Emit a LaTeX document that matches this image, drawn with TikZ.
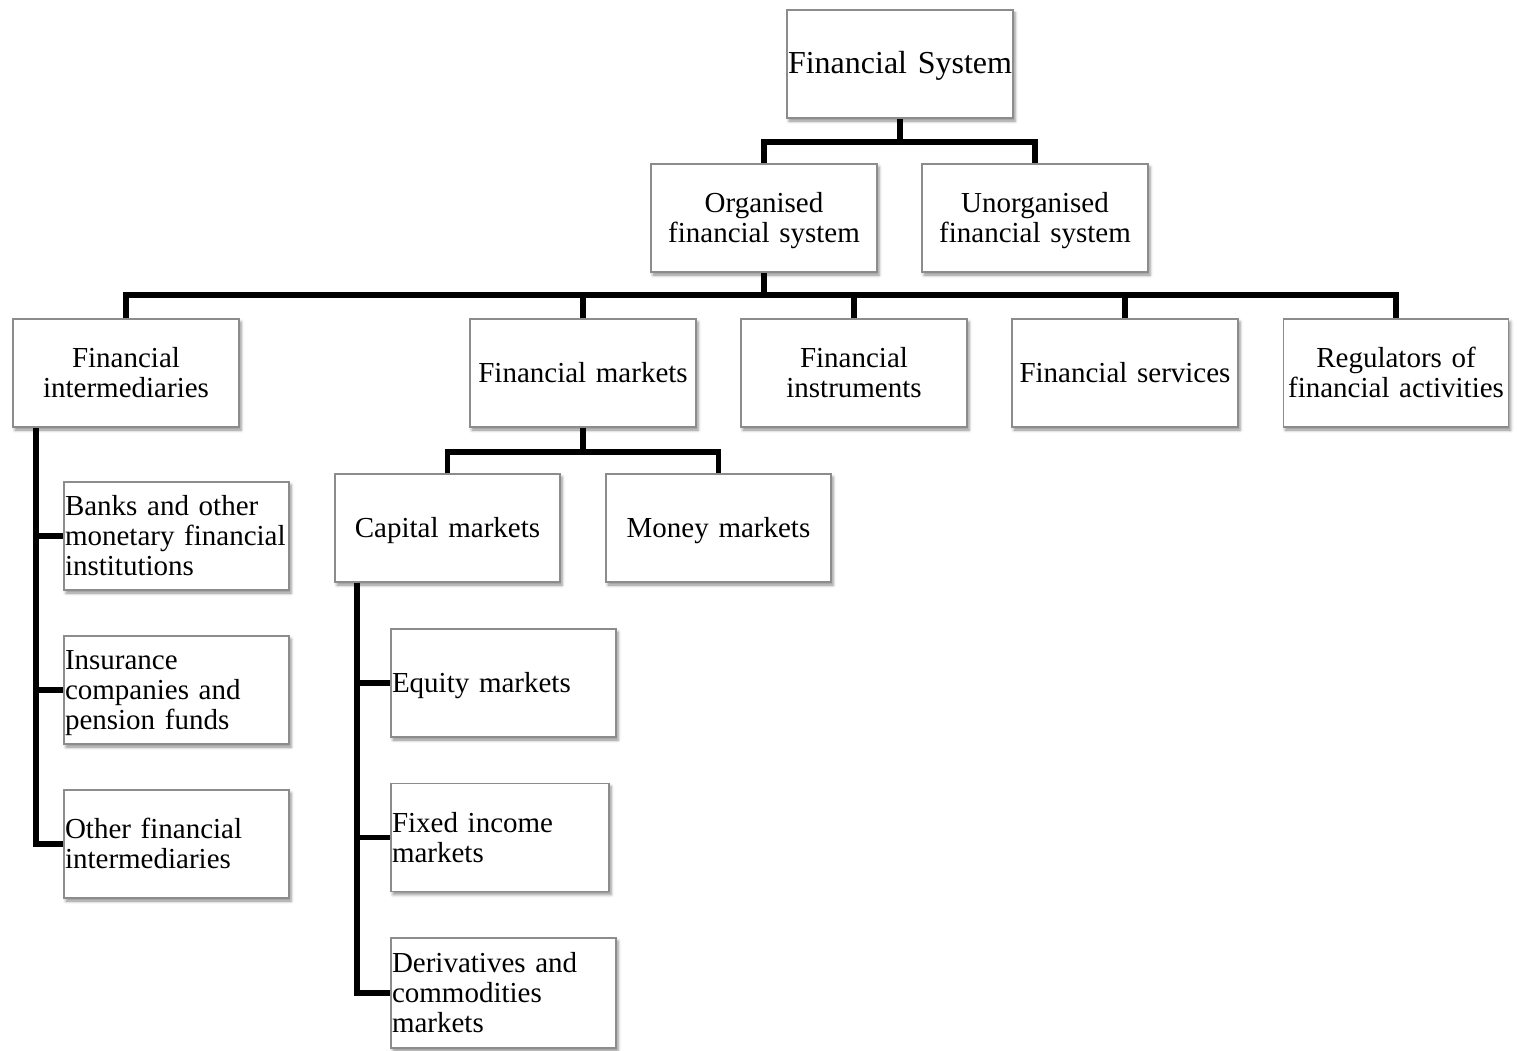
\documentclass[tikz,border=0pt]{standalone}
\usepackage{fontspec}
\setmainfont{Liberation Serif}
\usetikzlibrary{shadows.blur}
\definecolor{boxline}{HTML}{8C8C8C}
% invisible struts: a fixed height above the first baseline and a fixed
% depth below the last one, so every label sits the same way in its box
\newcommand\topstrut{\rule{0pt}{26.5pt}}
\newcommand\botstrut{\rule[-7pt]{0pt}{7pt}}
\tikzset{
  box/.style={draw=boxline, fill=white, line width=1.3pt,
    minimum height=108pt, inner xsep=1pt, inner ysep=0pt,
    text width=#1, align=center,
    font=\fontsize{29pt}{30pt}\selectfont,
    execute at begin node=\topstrut, execute at end node=\botstrut,
    blur shadow={shadow xshift=2pt, shadow yshift=-3pt,
      shadow blur radius=3pt, shadow opacity=45}},
  box/.default=224pt,
  leaf/.style={box=#1, align=left},
  leaf/.default=223pt,
  conn/.style={line width=5.5pt, line join=miter, draw=black}
}
\begin{document}
\begin{tikzpicture}[x=1pt, y=-1pt]
\useasboundingbox (0,0) rectangle (1517,1051);

% top level
\node[box, font=\fontsize{32pt}{33pt}\selectfont] (fs) at (900,64) {Financial System};
\node[box] (org)   at (764,218)  {Organised\\financial system};
\node[box] (unorg) at (1035,218) {Unorganised\\financial system};

% components of the organised system
\node[box] (fi)    at (126,373)  {Financial\\intermediaries};
\node[box] (fm)    at (583,373)  {Financial markets};
\node[box] (finst) at (854,373)  {Financial\\instruments};
\node[box] (fserv) at (1125,373) {Financial services};
\node[box=223pt] (reg) at (1396,373) {Regulators of\\financial activities};

% market types
\node[box=223pt] (cap) at (447.5,528) {Capital markets};
\node[box=223pt] (mon) at (718.5,528) {Money markets};

% intermediaries
\node[leaf] (banks) at (176.5,536) {Banks and other\\monetary financial\\institutions};
\node[leaf] (ins)   at (176.5,690) {Insurance\\companies and\\pension funds};
\node[leaf] (oth)   at (176.5,844) {Other financial\\intermediaries};

% capital market segments
\node[leaf] (eq)  at (503.5,683)   {Equity markets};
\node[leaf=216pt] (fix) at (500,837.5) {Fixed income\\markets};
\node[leaf, minimum height=110pt] (der) at (503.5,993) {Derivatives and\\commodities\\markets};

% bus points
\coordinate (b1) at (900,142);
\coordinate (b2) at (764,295);
\coordinate (b3) at (582,452);
\coordinate (tI) at (36,0);
\coordinate (tC) at (357,0);

% connectors
\draw[conn] (fs.south) -- (b1);
\draw[conn] (org.north) |- (b1) -| (unorg.north);

\draw[conn] (org.south) -- (b2);
\draw[conn] (fi.north) |- (b2) -| (reg.north);
\draw[conn] (fm.north) -- (fm.north |- b2);
\draw[conn] (finst.north) -- (finst.north |- b2);
\draw[conn] (fserv.north) -- (fserv.north |- b2);

\draw[conn] (fm.south) -- (fm.south |- b3);
\draw[conn] (cap.north) |- (b3) -| (mon.north);

\draw[conn] (fi.south -| tI) |- (oth.west);
\draw[conn] (tI |- banks.west) -- (banks.west);
\draw[conn] (tI |- ins.west) -- (ins.west);

\draw[conn] (cap.south -| tC) |- (der.west);
\draw[conn] (tC |- eq.west) -- (eq.west);
\draw[conn] (tC |- fix.west) -- (fix.west);
\end{tikzpicture}
\end{document}
